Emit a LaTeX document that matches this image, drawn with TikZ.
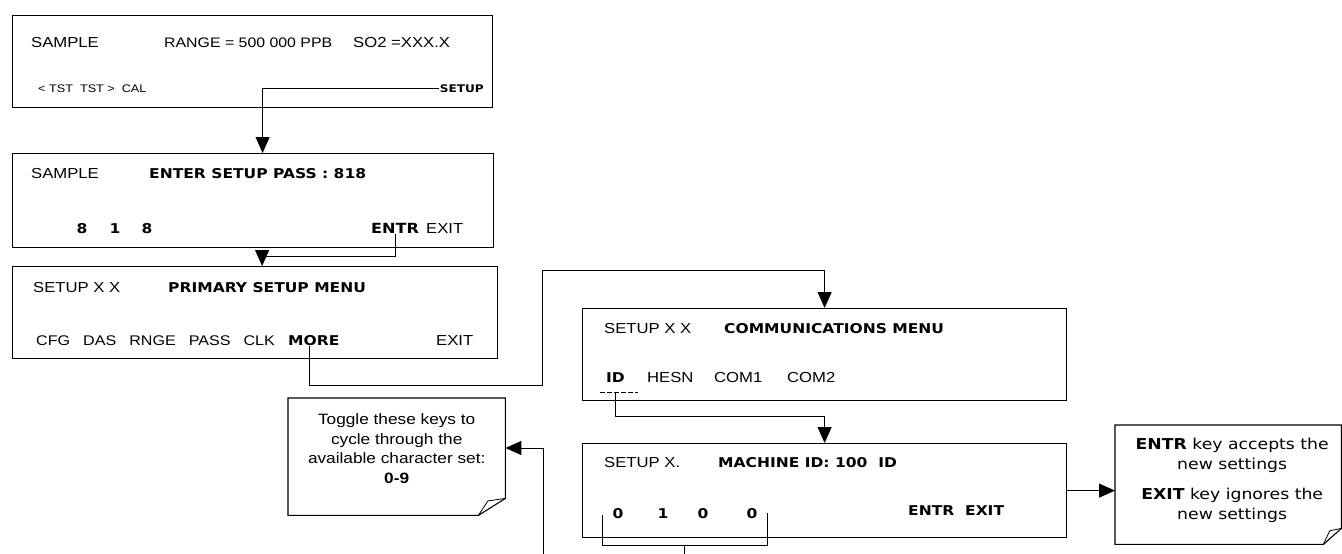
\documentclass[tikz,border=0pt]{standalone}
\usepackage{fontspec}
\newfontfamily\lcdfont[FakeStretch=1.15]{Liberation Sans}
\newfontfamily\keyfont[FakeStretch=1.15]{DejaVu Sans}
\usetikzlibrary{positioning,arrows.meta}

% note outline with a turned-down corner: node, dx, dy
\newcommand{\dogear}[3]{%
  \draw[line width=1.1pt] (#1.north west) -- (#1.north east) -- ([yshift=#3]#1.south east)
    -- ([xshift=-#2]#1.south east) -- (#1.south west) -- cycle;
  \draw[line width=0.8pt] ([xshift=-#2]#1.south east) -- ([xshift=-0.65*#2,yshift=0.85*#3]#1.south east)
    -- ([yshift=#3]#1.south east);}

\begin{document}
\begin{tikzpicture}[
    x=1pt, y=-1pt,
    screen/.style={draw, line width=1.2pt, anchor=north west, inner sep=0pt},
    notebox/.style={anchor=north west, inner sep=0pt},
    lbl/.style={anchor=base west, inner sep=1pt, font=\lcdfont\fontsize{14.5}{17}\selectfont},
    key/.style={anchor=base west, inner sep=1pt, font=\keyfont\bfseries\fontsize{13.5}{16}\selectfont},
    digit/.style={key, anchor=base},
    arr/.style={line width=1pt, -{Triangle[length=16pt,width=14pt]}},
    link/.style={line width=1pt},
  ]
  \useasboundingbox (0,0) rectangle (1342,554);
  \fill[white] (0,0) rectangle (1342,554);

  % screens
  \node[screen, minimum width=480pt, minimum height=92pt] (sample) at (12,15) {};
  \node[screen, minimum width=481pt, minimum height=94pt] (pass)   at (12,153) {};
  \node[screen, minimum width=485pt, minimum height=92pt] (menu)   at (12,266) {};
  \node[screen, minimum width=484pt, minimum height=92pt] (comm)   at (582,308) {};
  \node[screen, minimum width=484pt, minimum height=94pt] (mach)   at (582,443) {};

  % sample screen
  \node[lbl] (smpA)  at (30,47)  {SAMPLE};
  \node[lbl, font=\lcdfont\fontsize{13.8}{17}\selectfont] (range) at (163,47) {RANGE = 500 000 PPB};
  \node[lbl] (so2)   at (352,47) {SO2 =XXX.X};
  \node[lbl, font=\lcdfont\fontsize{11}{13}\selectfont] (tst) at (37,92) {< TST\ \ TST >\ \ CAL};
  \node[key, anchor=base east, font=\keyfont\bfseries\fontsize{10.5}{13}\selectfont] (setup) at (485,92) {SETUP};

  % password screen
  \node[lbl] (smpB)    at (30,178)  {SAMPLE};
  \node[key] (passttl) at (148,178) {ENTER SETUP PASS : 818};
  \node[digit] (pa) at (82,233)  {8};
  \node[digit] (pb) at (115,233) {1};
  \node[digit] (pc) at (147,233) {8};
  \node[key, font=\keyfont\bfseries\fontsize{14}{16}\selectfont] (entr) at (370,233) {ENTR};
  \node[lbl] (exitA) at (425,233) {EXIT};

  % primary setup menu
  \node[lbl] (setA)    at (32,292)  {SETUP X X};
  \node[key] (menuttl) at (167,292) {PRIMARY SETUP MENU};
  \node[lbl, font=\lcdfont\fontsize{14}{16}\selectfont] (keys) at (35,345)
    {CFG\hspace{13pt}DAS\hspace{13pt}RNGE\hspace{13pt}PASS\hspace{13pt}CLK};
  \node[key] (more)  at (287,345) {MORE};
  \node[lbl] (exitB) at (435,345) {EXIT};

  % communications menu
  \node[lbl] (setB)    at (603,333) {SETUP X X};
  \node[key] (commttl) at (723,333) {COMMUNICATIONS MENU};
  \node[key] (id)   at (605,382) {ID};
  \node[lbl] (hesn) at (646,382) {HESN};
  \node[lbl] (com1) at (713,382) {COM1};
  \node[lbl] (com2) at (786,382) {COM2};
  \coordinate (idcur) at ([yshift=-10pt]id.base);
  \draw[line width=0.8pt, dash pattern=on 5pt off 2pt] ([xshift=-5pt,yshift=-10pt]id.base west) -- ([xshift=12pt,yshift=-10pt]id.base east);

  % machine id screen
  \node[lbl] (setC)    at (603,467) {SETUP X.};
  \node[key] (machttl) at (717,467) {MACHINE ID: 100\ \ ID};
  \node[digit] (da) at (618,518) {0};
  \node[digit] (db) at (663,518) {1};
  \node[digit] (dc) at (703,518) {0};
  \node[digit] (dd) at (752,518) {0};
  \node[key] (mentr) at (907,515) {ENTR\ \ EXIT};

  % notes
  \node[notebox, minimum width=217pt, minimum height=117pt] (toggle) at (288,398) {};
  \node[align=center, font=\lcdfont\fontsize{15}{19.7}\selectfont] (toggletxt) at ([yshift=8pt]toggle.center)
    {Toggle these keys to\\cycle through the\\available character set:\\\textbf{0-9}};
  \dogear{toggle}{27pt}{17pt}
  \node[notebox, minimum width=226pt, minimum height=119pt] (enote) at (1115,425) {};
  \node[align=center, font=\keyfont\fontsize{15}{20}\selectfont] (enotetxt) at ([xshift=4pt,yshift=4.5pt]enote.center)
    {\textbf{ENTR} key accepts the\\new settings\\[10pt]\textbf{EXIT} key ignores the\\new settings};
  \dogear{enote}{18pt}{16pt}

  % connectors
  \coordinate (passin) at ([xshift=9.5pt]pass.north);
  \draw[arr] (setup.west) -| (passin);
  \coordinate (jog1) at (0,256);
  \coordinate (menuin) at ([xshift=7pt]menu.north);
  \draw[arr] (entr.south) |- (jog1 -| menuin) -- (menuin);
  \coordinate (moreout) at ([xshift=-4pt]more.south);
  \coordinate (loopA) at (542,385);
  \coordinate (loopB) at (542,270);
  \draw[arr] (moreout) |- (loopA) -- (loopB) -| (comm.north);
  \coordinate (jog2) at (0,416);
  \draw[arr] (idcur) |- (jog2 -| mach.north) -- (mach.north);
  \coordinate (brL) at (602,515);
  \coordinate (brR) at (767,513);
  \coordinate (brB) at (0,545);
  \draw[link] (brL) |- (brB -| brR) -- (brR);
  \coordinate (brM) at (684,545);
  \coordinate (under) at (0,585);
  \coordinate (bendD) at (543,448);
  \draw[arr] (brM) |- (under -| bendD) -- (bendD) -- (bendD -| toggle.east);
  \draw[arr] (mach.east) -- (mach.east -| enote.west);
\end{tikzpicture}
\end{document}
